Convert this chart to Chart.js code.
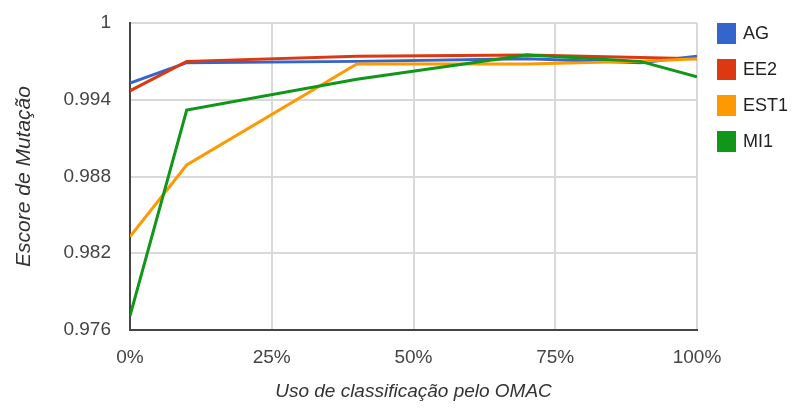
<!DOCTYPE html>
<html lang="pt">

<head>
    <meta charset="UTF-8">
    <title>Escore de Mutação</title>
    <script src="https://cdn.jsdelivr.net/npm/chart.js"></script>
    <style>
        body {
            margin: 0;
            background: #fff;
            font-family: "Liberation Sans", Arial, sans-serif;
        }

        .wrap {
            position: relative;
            width: 792px;
            height: 408px;
        }

        .legend {
            position: absolute;
            left: 717px;
            top: 22px;
        }

        .legend-item {
            display: flex;
            align-items: center;
            height: 22px;
            margin-bottom: 14px;
            font-size: 18px;
            color: #222;
        }

        .legend-item span.box {
            width: 19px;
            height: 21px;
            margin-right: 7px;
        }
    </style>
</head>

<body>
    <div class="wrap">
        <canvas id="chart"></canvas>
        <div class="legend" id="legend"></div>
    </div>

    <script>
        const xValues = [0, 10, 40, 70, 90, 100];
        const seriesNames = ["AG", "EE2", "EST1", "MI1"];
        const agValues = [0.9953, 0.9969, 0.9970, 0.9972, 0.9969, 0.9974];
        const ee2Values = [0.9947, 0.9970, 0.9974, 0.9975, 0.9973, 0.9972];
        const est1Values = [0.9833, 0.9889, 0.9968, 0.9968, 0.9970, 0.9972];
        const mi1Values = [0.9771, 0.9932, 0.9956, 0.9975, 0.9970, 0.9958];
        const xTicks = [0, 25, 50, 75, 100];
        const yTicks = [0.976, 0.982, 0.988, 0.994, 1];

        const colors = ["#3366cc", "#dc3912", "#ff9900", "#109618"];
        const allValues = [agValues, ee2Values, est1Values, mi1Values];

        const datasets = seriesNames.map((name, i) => ({
            label: name,
            data: xValues.map((x, j) => ({ x: x, y: allValues[i][j] })),
            borderColor: colors[i],
            backgroundColor: colors[i],
            borderWidth: 3,
            pointRadius: 0,
            tension: 0,
            order: seriesNames.length - i
        }));

        Chart.defaults.font.family = '"Liberation Sans", Arial, sans-serif';

        new Chart(document.getElementById("chart"), {
            type: "line",
            data: { datasets: datasets },
            options: {
                responsive: true,
                maintainAspectRatio: false,
                animation: false,
                layout: { padding: { left: 12, right: 95, top: 23, bottom: 0 } },
                plugins: {
                    legend: { display: false },
                    tooltip: { enabled: false }
                },
                scales: {
                    x: {
                        type: "linear",
                        min: 0,
                        max: 100,
                        afterBuildTicks: scale => { scale.ticks = xTicks.map(v => ({ value: v })); },
                        afterFit: scale => { scale.height = 78; },
                        ticks: {
                            color: "#444",
                            font: { size: 19 },
                            padding: 16,
                            callback: v => v + "%"
                        },
                        grid: { color: "#d9d9d9", lineWidth: 2, drawTicks: false },
                        border: { color: "#444", width: 2 },
                        title: {
                            display: true,
                            text: "Uso de classificação pelo OMAC",
                            color: "#333",
                            font: { size: 19, style: "italic" },
                            padding: { top: 0, bottom: 5 }
                        }
                    },
                    y: {
                        min: 0.976,
                        max: 1,
                        afterBuildTicks: scale => { scale.ticks = yTicks.map(v => ({ value: v })); },
                        afterFit: scale => { scale.width = 118; },
                        ticks: {
                            color: "#444",
                            font: { size: 19, lineHeight: 0.4 },
                            padding: 19,
                            callback: v => String(Number(v.toFixed(3)))
                        },
                        grid: { color: "#d9d9d9", lineWidth: 2, drawTicks: false },
                        border: { color: "#444", width: 2 },
                        title: {
                            display: true,
                            text: "Escore de Mutação",
                            color: "#333",
                            font: { size: 21, style: "italic" },
                            padding: { top: 0, bottom: 0 }
                        }
                    }
                }
            }
        });

        const legendEl = document.getElementById("legend");
        seriesNames.forEach((name, i) => {
            const div = document.createElement("div");
            div.className = "legend-item";
            div.innerHTML = `<span class="box" style="background:${colors[i]}"></span>${name}`;
            legendEl.appendChild(div);
        });
    </script>
</body>

</html>
